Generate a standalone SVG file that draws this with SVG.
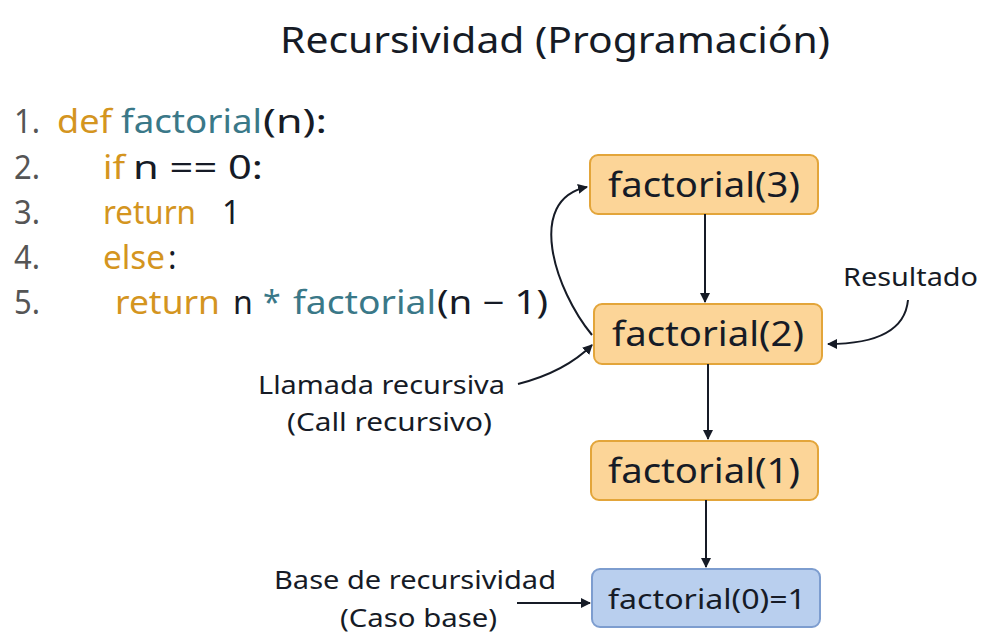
<svg xmlns="http://www.w3.org/2000/svg" width="999" height="639" viewBox="0 0 999 639">
<defs>
<marker id="ah" viewBox="0 0 10 10" refX="9" refY="5" markerWidth="10" markerHeight="10" markerUnits="userSpaceOnUse" orient="auto">
<path d="M0,0 L10,5 L0,10 z" fill="#161b26"/>
</marker>
<style>
text{font-family:"Noto Sans","Open Sans",sans-serif;fill:#161b26}
.code{font-size:32px}
.num{fill:#555}
.kw{fill:#D4951F}
.fn{fill:#3A7888}
.lbl{font-size:25px}
.box{fill:#FCD598;stroke:#E3A53A;stroke-width:2}
.base{fill:#B9CFEE;stroke:#7D9DCF;stroke-width:2}
.bt{font-size:34px}
.conn path{fill:none;stroke:#161b26;stroke-width:2;marker-end:url(#ah)}
</style>
</defs>
<rect width="999" height="639" fill="#fff"/>
<text x="280" y="53" font-size="37" textLength="550" lengthAdjust="spacingAndGlyphs">Recursividad (Programación)</text>
<g id="code" class="code">
<text x="14" y="133" class="num" textLength="26" lengthAdjust="spacingAndGlyphs">1.</text>
<text x="57" y="133" class="kw" textLength="55" lengthAdjust="spacingAndGlyphs">def</text>
<text x="121" y="133" class="fn" textLength="141" lengthAdjust="spacingAndGlyphs">factorial</text>
<text x="263" y="133" textLength="64" lengthAdjust="spacingAndGlyphs">(n):</text>
<text x="14" y="179" class="num" textLength="26" lengthAdjust="spacingAndGlyphs">2.</text>
<text x="103" y="179" class="kw" textLength="22" lengthAdjust="spacingAndGlyphs">if</text>
<text x="133" y="179" textLength="130" lengthAdjust="spacingAndGlyphs">n == 0:</text>
<text x="14" y="224" class="num" textLength="26" lengthAdjust="spacingAndGlyphs">3.</text>
<text x="103" y="224" class="kw" textLength="93" lengthAdjust="spacingAndGlyphs">return</text>
<text x="222" y="224">1</text>
<text x="14" y="269" class="num" textLength="26" lengthAdjust="spacingAndGlyphs">4.</text>
<text x="103" y="269" class="kw" textLength="62" lengthAdjust="spacingAndGlyphs">else</text>
<text x="168" y="269">:</text>
<text x="14" y="314" class="num" textLength="26" lengthAdjust="spacingAndGlyphs">5.</text>
<text x="115" y="314" class="kw" textLength="105" lengthAdjust="spacingAndGlyphs">return</text>
<text x="233" y="314">n</text>
<text x="263" y="314" class="fn">*</text>
<text x="293" y="314" class="fn" textLength="143" lengthAdjust="spacingAndGlyphs">factorial</text>
<text x="437" y="314" textLength="111" lengthAdjust="spacingAndGlyphs">(n − 1)</text>
</g>
<g id="n3"><rect class="box" x="590" y="155" width="228" height="59" rx="8"/><text class="bt" x="608" y="197" textLength="192" lengthAdjust="spacingAndGlyphs">factorial(3)</text></g>
<g id="n2"><rect class="box" x="594" y="304" width="228" height="60" rx="8"/><text class="bt" x="612" y="346" textLength="192" lengthAdjust="spacingAndGlyphs">factorial(2)</text></g>
<g id="n1"><rect class="box" x="591" y="441" width="227" height="59" rx="8"/><text class="bt" x="608" y="483" textLength="192" lengthAdjust="spacingAndGlyphs">factorial(1)</text></g>
<g id="n0"><rect class="base" x="592" y="569" width="228" height="58" rx="8"/><text x="608" y="609" font-size="28" textLength="198" lengthAdjust="spacingAndGlyphs">factorial(0)=1</text></g>
<g id="labels" class="lbl">
<text x="843" y="286" textLength="135" lengthAdjust="spacingAndGlyphs">Resultado</text>
<text x="258" y="394" textLength="247" lengthAdjust="spacingAndGlyphs">Llamada recursiva</text>
<text x="287" y="431" textLength="205" lengthAdjust="spacingAndGlyphs">(Call recursivo)</text>
<text x="274" y="589" textLength="282" lengthAdjust="spacingAndGlyphs">Base de recursividad</text>
<text x="340" y="627" textLength="157" lengthAdjust="spacingAndGlyphs">(Caso base)</text>
</g>
<g id="connectors" class="conn">
<path d="M705,214 L705,302"/>
<path d="M708,364 L708,439"/>
<path d="M706,500 L706,567"/>
<path d="M592,335 C555,290 525,200 587,187"/>
<path d="M518,384 Q565,372 592,345"/>
<path d="M908,300 C905,332 875,344 828,344"/>
<path d="M517,603 L590,603"/>
</g>
</svg>
